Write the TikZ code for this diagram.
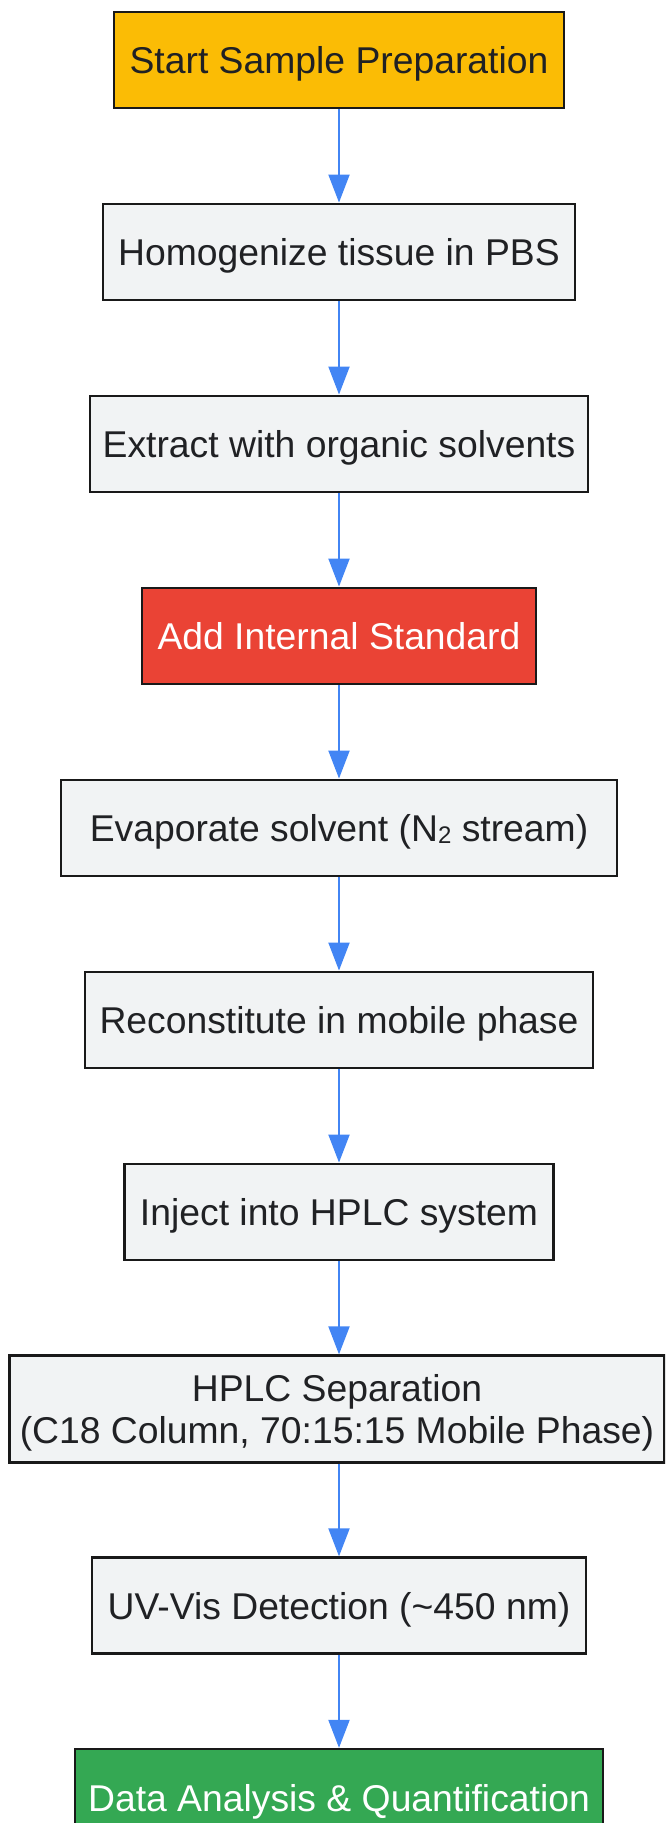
\documentclass[tikz,border=0pt]{standalone}
\usepackage{fontspec}
\setmainfont{Liberation Sans}
\usetikzlibrary{arrows.meta}
\definecolor{gfill}{HTML}{F1F3F4}
\definecolor{yfill}{HTML}{FBBC05}
\definecolor{rfill}{HTML}{EA4335}
\definecolor{grfill}{HTML}{34A853}
\definecolor{txt}{HTML}{202124}
\definecolor{edge}{HTML}{4285F4}
\tikzset{
  box/.style={draw=black!90, line width=2.3pt, fill=gfill, text=txt,
    minimum height=96pt, inner sep=0pt, font=\fontsize{37.3}{41.5}\selectfont,
    text height=28.4pt, text depth=0pt},
  conn/.style={draw=edge, line width=2pt, -{Triangle[width=21pt,length=28pt]}}
}
\begin{document}
\begin{tikzpicture}[x=1pt,y=-1pt]
\useasboundingbox (0,0) rectangle (665,1823);
\clip (0,0) rectangle (665,1823);
\node[box, fill=yfill, minimum width=450pt] (n1) at (339,59.7) {Start Sample Preparation};
\node[box, minimum width=472pt] (n2) at (339,251.7) {Homogenize tissue in PBS};
\node[box, minimum width=498pt] (n3) at (339,443.7) {Extract with organic solvents};
\node[box, fill=rfill, text=white, minimum width=394pt] (n4) at (339,635.7) {Add Internal Standard};
\node[box, minimum width=556pt] (n5) at (339,827.7) {Evaporate solvent (N\raisebox{-0.05em}{\fontsize{24}{24}\selectfont 2} stream)};
\node[box, minimum width=508pt] (n6) at (339,1019.7) {Reconstitute in mobile phase};
\node[box, minimum width=429pt] (n7) at (339,1211.7) {Inject into HPLC system};
\node[box, minimum width=655pt, minimum height=107pt, align=center, text height=68pt, text depth=0pt] (n8) at (337,1409) {HPLC Separation\\(C18 Column, 70:15:15 Mobile Phase)};
\node[box, minimum width=494pt] (n9) at (339,1605.5) {UV-Vis Detection (\textasciitilde450 nm)};
\node[box, fill=grfill, text=white, minimum width=528pt] (n10) at (339,1797) {Data Analysis \& Quantification};
\draw[conn] (n1) -- (n2);
\draw[conn] (n2) -- (n3);
\draw[conn] (n3) -- (n4);
\draw[conn] (n4) -- (n5);
\draw[conn] (n5) -- (n6);
\draw[conn] (n6) -- (n7);
\draw[conn] (n7.south) -- (n7.south |- n8.north);
\draw[conn] (n9.north |- n8.south) -- (n9.north);
\draw[conn] (n9) -- (n10);
\end{tikzpicture}
\end{document}
